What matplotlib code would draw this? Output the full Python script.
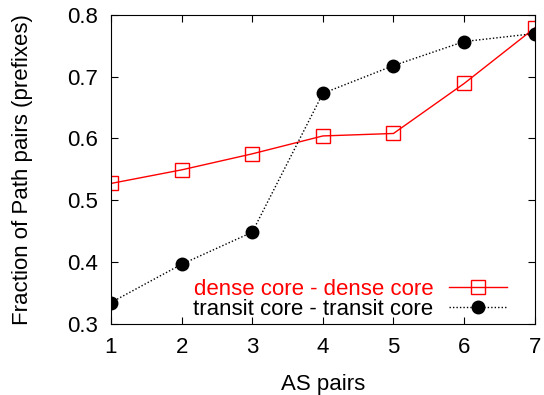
import matplotlib
matplotlib.use("Agg")
import matplotlib.pyplot as plt

plt.rcParams['font.family'] = ['Liberation Sans', 'DejaVu Sans']

# data
as_pairs = [1, 2, 3, 4, 5, 6, 7]
dense = [0.527, 0.549, 0.575, 0.604, 0.608, 0.689, 0.779]
transit = [0.334, 0.396, 0.448, 0.673, 0.718, 0.757, 0.770]

fig = plt.figure(figsize=(5.44, 3.95), dpi=100)
ax = fig.add_axes([0.204, 0.181, 0.779, 0.781])

ax.plot(as_pairs, dense, color='red', lw=1, marker='s', ms=10,
        mfc='none', mec='red', mew=1, label='dense core - dense core')
ax.plot(as_pairs, transit, color='black', lw=1, ls=(0, (1, 1.5)), marker='o',
        ms=9, mfc='black', mec='black', label='transit core - transit core')

ax.set_xlim(1, 7)
ax.set_ylim(0.3, 0.8)
ax.set_xticks(as_pairs)
ax.set_yticks([0.3, 0.4, 0.5, 0.6, 0.7, 0.8])
ax.tick_params(direction='in', top=True, right=True, labelsize=16, length=5)
ax.tick_params(axis='x', pad=10)
ax.tick_params(axis='y', pad=9)
ax.set_xlabel('AS pairs', fontsize=16, labelpad=11)
ax.set_ylabel('Fraction of Path pairs (prefixes)', fontsize=16, labelpad=25)

leg = ax.legend(loc='lower right', bbox_to_anchor=(0.950, -0.010),
                frameon=False, markerfirst=False, fontsize=16,
                handlelength=2.6, borderaxespad=0, borderpad=0.3,
                labelspacing=-0.05, handletextpad=0.7)
for text, line in zip(leg.get_texts(), leg.get_lines()):
    text.set_color(line.get_color())

fig.savefig('out.png', dpi=100)
